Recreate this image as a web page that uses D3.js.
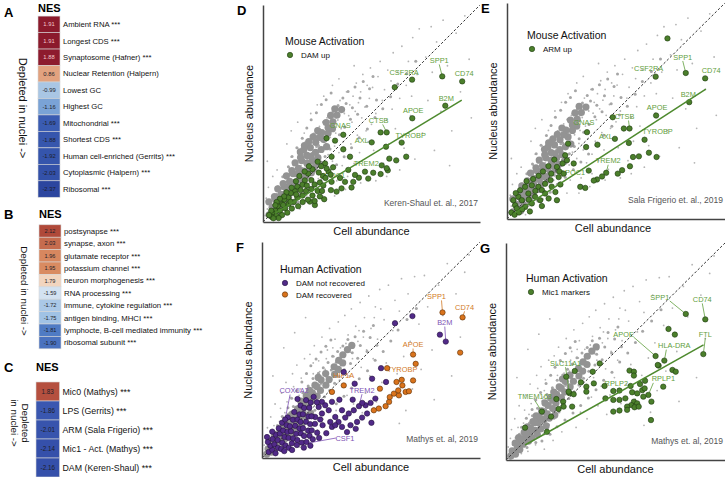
<!DOCTYPE html>
<html><head><meta charset="utf-8">
<script src="https://cdn.jsdelivr.net/npm/d3@7"></script>
<style>body{margin:0;background:#fff}svg{display:block;font-family:"Liberation Sans",Arial,Helvetica,sans-serif}</style>
</head><body><svg id="c" width="725" height="477"></svg>
<script>
// ---------------- heatmap data ----------------
const setsA = ["Ambient RNA ***","Longest CDS ***","Synaptosome (Hafner) ***","Nuclear Retention (Halpern)","Lowest GC","Highest GC","Mitochondrial ***","Shortest CDS ***","Human cell-enriched (Gerrits) ***","Cytoplasmic (Halpern) ***","Ribosomal ***"];
const nesA = [1.91,1.91,1.88,0.86,-0.99,-1.16,-1.69,-1.88,-1.92,-2.03,-2.37];
const setsB = ["postsynapse ***","synapse, axon ***","glutamate receptor ***","potassium channel ***","neuron morphogenesis ***","RNA processing ***","immune, cytokine regulation ***","antigen binding, MHCI ***","lymphocte, B-cell mediated immunity ***","ribosomal subunit ***"];
const nesB = [2.12,2.03,1.96,1.95,1.79,-1.59,-1.72,-1.75,-1.81,-1.90];
const setsC = ["Mic0 (Mathys) ***","LPS (Gerrits) ***","ARM (Sala Frigerio) ***","Mic1 - Act. (Mathys) ***","DAM (Keren-Shaul) ***"];
const nesC = [1.83,-1.86,-2.01,-2.14,-2.16];

// ---------------- background gene clouds [cell abundance, nucleus abundance] ----------------
const mouseBgSparse = [[0.1,0.3],[0.2,0.6],[0.3,0.2],[0.35,0.9],[0.4,0.5],[0.5,1.2],[0.55,0.3],[0.6,0.8],[0.7,1.5],[0.75,0.5],[0.8,1.1],[0.9,1.8],[0.95,0.7],[1.0,1.3],[0.15,1.1],[0.25,1.6],[0.45,2.1],[0.65,2.4],[0.85,0.2],[0.2,2.8],
[1.05,2.0],[1.1,0.9],[1.15,1.6],[1.2,2.5],[1.25,1.2],[1.3,3.0],[1.35,1.9],[1.4,0.8],[1.45,2.3],[1.5,1.5],[1.55,2.8],[1.6,3.4],[1.65,1.1],[1.7,2.1],[1.75,2.6],[1.8,1.6],[1.85,3.1],[1.9,2.2],[1.95,3.7],[2.0,1.3],[1.1,3.6],[1.3,4.2],[1.6,4.6],[1.9,4.1],[1.7,0.6],
[2.05,2.5],[2.1,3.0],[2.15,1.8],[2.2,3.5],[2.25,2.2],[2.3,4.0],[2.35,2.7],[2.4,1.5],[2.45,3.2],[2.5,3.8],[2.55,2.0],[2.6,4.4],[2.65,2.9],[2.7,3.4],[2.75,1.2],[2.8,4.0],[2.85,2.5],[2.9,3.6],[2.95,4.8],[3.0,3.1],[2.2,5.0],[2.5,5.4],[2.8,5.8],[2.4,0.9],[2.9,1.8],
[3.05,2.3],[3.1,3.9],[3.15,4.5],[3.2,2.8],[3.25,5.2],[3.3,3.5],[3.35,4.1],[3.4,1.9],[3.45,4.7],[3.5,3.2],[3.55,5.6],[3.6,4.3],[3.65,2.6],[3.7,3.7],[3.75,5.0],[3.8,4.4],[3.85,6.0],[3.9,3.0],[3.95,4.9],[4.0,5.4],[3.2,6.3],[3.5,6.6],[3.8,1.5],[3.3,1.2],[3.9,2.1],
[4.05,3.6],[4.1,4.6],[4.15,5.8],[4.2,2.7],[4.25,5.1],[4.3,6.4],[4.35,4.0],[4.4,5.5],[4.45,3.2],[4.5,6.0],[4.55,4.8],[4.6,6.8],[4.65,2.3],[4.7,5.3],[4.75,4.2],[4.8,6.3],[4.85,3.7],[4.9,5.7],[4.95,7.1],[5.0,4.5],[4.2,7.2],[4.5,1.8],
[5.05,6.2],[5.1,3.3],[5.2,5.0],[5.3,6.7],[5.35,4.1],[5.4,7.4],[5.5,5.6],[5.55,2.7],[5.6,6.1],[5.7,4.7],[5.75,7.0],[5.8,3.6],[5.9,6.5],[5.95,5.2],[6.0,7.8],[5.2,1.9],[5.7,2.1],
[6.1,4.3],[6.2,6.9],[6.3,5.7],[6.4,8.1],[6.5,3.4],[6.6,6.3],[6.7,7.4],[6.8,4.9],[6.9,8.5],[7.0,2.9],[6.3,2.4],[6.85,5.8],
[7.1,6.8],[7.2,8.9],[7.35,4.1],[7.5,7.6],[7.6,5.6],[7.75,9.0],[7.9,3.3],[7.8,6.9],[8.0,8.3],
[8.2,5.1],[8.3,9.3],[8.5,7.2],[8.7,4.2],[8.9,8.7],[9.1,6.0],[9.3,9.5],[9.5,7.5],[8.6,2.6],[9.6,4.8]];
const mouseBgDense = [[0.35,0.62],[0.52,0.41],[0.63,1.27],[0.78,0.93],[0.86,1.55],[0.97,0.62],[1.08,1.84],[1.12,1.07],[1.23,2.21],[1.27,1.38],[1.38,0.88],[1.42,2.63],[1.51,1.66],[1.58,2.04],[1.66,2.97],[1.72,1.29],[1.79,2.48],[1.88,3.31],[1.93,1.71],[2.04,2.83],[2.11,3.61],[2.18,2.02],[2.26,3.17],[2.33,4.05],[2.41,2.36],[2.47,3.48],[2.58,4.27],[2.63,2.61],[2.71,3.77],[2.79,4.61],[2.86,3.02],[2.94,4.12],[3.02,4.88],[3.09,3.36],[3.17,4.41],[3.23,5.09],[3.31,3.71],[3.38,4.83],[3.46,5.37],[3.52,4.02],[3.61,5.18],[3.68,5.72],[3.76,4.37],[3.83,5.46],[3.92,6.01],[4.03,4.73],[4.12,5.27],[4.24,6.22],[4.36,4.96],[4.47,5.71],[4.62,6.48],[4.78,5.33],[4.91,6.14],[5.07,6.71],[5.23,5.62],[0.44,1.08],[0.69,1.62],[0.91,2.09],[1.17,2.55],[1.34,3.02],[1.56,3.42],[1.81,3.86],[2.02,4.33],[2.22,4.71],[2.46,5.04],[2.69,5.41],[2.91,5.63],[3.14,5.94],[0.58,0.83],[0.83,1.21],[1.03,1.46],[1.29,1.77],[1.47,2.13],[1.71,2.36],[1.96,2.61],[2.14,2.96],[2.37,3.26],[2.56,3.52],[2.77,3.93],[2.99,4.26],[3.21,4.62],[3.43,4.98],[1.62,0.92],[1.98,1.24],[2.31,1.61],[2.67,1.93],[3.04,2.28],[3.39,2.64],[3.74,3.01],[4.08,3.42],[4.43,3.88],[4.81,4.29],[5.16,4.81],[5.52,5.22],[5.88,5.77],[6.21,6.36],[6.62,6.83],[7.04,7.41]];
const mouseBgCore = [[0.28,0.33],[0.52,0.47],[0.68,0.83],[0.93,0.97],[1.08,1.34],[1.33,1.47],[1.48,1.83],[1.73,1.97],[1.88,2.34],[2.13,2.47],[2.28,2.83],[2.53,2.97],[2.68,3.34],[2.93,3.47],
[0.42,0.68],[0.58,1.03],[0.83,1.27],[0.98,1.63],[1.23,1.87],[1.38,2.23],[1.63,2.47],[1.78,2.83],[2.03,3.07],[2.18,3.43],[2.43,3.67],
[0.63,0.38],[0.78,0.63],[1.03,0.87],[1.18,1.13],[1.43,1.37],[1.58,1.63],[1.83,1.87],[1.98,2.13],[2.23,2.27],[2.38,2.53],[2.63,2.67],
[0.27,0.93],[0.53,1.17],[0.68,1.53],[0.93,1.77],[1.08,2.13],[1.33,2.37],[1.48,2.73],[1.73,2.97],[1.88,3.33],[2.8,3.8],[3.0,4.1],[2.6,3.9],[3.2,4.3],
[3.0,4.35],[3.22,4.62],[3.41,4.93],[3.62,5.18],[2.91,4.58],[3.12,4.91],[3.31,5.22],[2.21,3.02],[2.42,3.21],[2.02,2.72],[1.61,2.21],[1.22,1.62],[0.81,1.02],[2.71,4.12],[2.52,4.21],[2.31,3.92],[2.11,3.71],[1.91,3.52],[1.72,3.23]];

const humanBgSparse = [[0.1,0.6],[0.2,1.0],[0.3,0.1],[0.4,1.9],[0.5,0.9],[0.6,2.5],[0.7,0.3],[0.8,1.7],[0.9,3.0],[1.0,0.4],[1.05,2.1],[1.1,3.5],[1.2,1.4],[1.3,2.8],[1.35,0.7],[1.4,3.9],[1.5,2.2],[1.55,1.1],[1.6,4.3],[1.7,2.9],[1.75,0.5],[1.8,3.7],[1.9,1.5],[1.95,4.6],[2.0,2.6],
[2.1,3.3],[2.15,0.9],[2.2,4.8],[2.3,2.0],[2.35,3.9],[2.4,5.2],[2.5,2.7],[2.55,1.3],[2.6,4.5],[2.7,3.4],[2.75,5.6],[2.8,1.8],[2.9,4.1],[2.95,2.4],[3.0,5.0],[3.1,6.0],[3.15,3.0],[3.2,1.5],[3.3,4.7],[3.35,5.5],[3.4,2.2],[3.5,6.3],[3.55,3.6],[3.6,5.1],[3.7,1.9],[3.75,4.3],[3.8,6.6],[3.9,2.9],[3.95,5.7],[4.0,3.8],
[4.1,6.9],[4.15,4.6],[4.2,2.5],[4.3,6.1],[4.35,3.4],[4.4,5.4],[4.5,7.2],[4.55,4.2],[4.6,2.1],[4.7,6.5],[4.75,3.0],[4.8,5.0],[4.9,7.5],[4.95,3.8],[5.0,6.0],[5.1,4.6],[5.2,7.0],[5.25,2.6],[5.3,5.5],[5.4,7.8],[5.5,3.5],[5.6,6.4],[5.7,4.4],[5.8,8.0],[5.9,2.8],[6.0,5.9],[6.1,7.3],[6.2,3.9],[6.3,6.8],[6.4,8.3],[6.5,4.7],[6.6,2.2],[6.7,7.6],[6.8,5.4],[6.9,3.2],[7.0,8.4],[7.2,6.2],[7.3,4.1],[7.45,8.45],[7.6,7.0],[7.8,5.0],[7.9,2.7],[8.1,8.0],[8.3,6.6],[8.5,9.0],[8.7,3.8],[8.9,7.6],[9.1,5.6],[9.3,8.6],[9.5,9.4],[1.0,5.1],[1.5,5.8],[2.0,6.5],[0.5,3.8],[6.3,1.6],
[0.25,1.4],[0.55,1.5],[0.85,2.3],[1.15,2.6],[1.45,3.3],[1.75,3.2],[2.05,3.9],[2.35,4.4],[2.65,4.0],[2.95,4.6],[3.25,5.1],[3.55,4.4],[3.85,5.3],[4.05,4.9],[4.45,5.9],[4.65,5.6],[5.15,6.5],[5.45,6.9]];
const humanBgDense = [[0.33,0.71],[0.49,0.36],[0.61,1.19],[0.77,0.88],[0.88,1.47],[0.96,0.58],[1.07,1.71],[1.14,1.02],[1.21,2.04],[1.29,1.31],[1.36,0.81],[1.44,2.38],[1.53,1.58],[1.59,1.93],[1.68,2.72],[1.74,1.21],[1.81,2.31],[1.87,3.02],[1.94,1.63],[2.06,2.62],[2.12,3.33],[2.19,1.92],[2.27,2.93],[2.34,3.68],[2.42,2.21],[2.48,3.21],[2.59,3.92],[2.64,2.48],[2.72,3.47],[2.81,4.18],[2.87,2.83],[2.96,3.79],[3.03,4.42],[3.11,3.14],[3.18,4.07],[3.24,4.71],[3.33,3.46],[3.41,4.43],[3.47,4.93],[3.54,3.77],[3.63,4.71],[3.71,5.18],[3.78,4.09],[3.86,5.02],[3.94,5.49],[4.06,4.38],[4.14,4.87],[4.27,5.61],[4.39,4.62],[4.51,5.21],[4.66,5.87],[4.82,4.93],[4.96,5.58],[5.11,6.13],[5.27,5.22],[0.46,1.02],[0.71,1.51],[0.93,1.92],[1.19,2.33],[1.36,2.77],[1.58,3.11],[1.83,3.52],[2.04,3.91],[2.24,4.27],[2.48,4.58],[2.71,4.91],[2.93,5.17],[3.16,5.46],[1.64,0.88],[2.01,1.19],[2.33,1.53],[2.69,1.84],[3.06,2.17],[3.41,2.51],[3.76,2.86],[4.11,3.24],[4.46,3.67],[4.84,4.04],[5.19,4.52],[5.56,4.93],[5.91,5.42],[6.24,5.93],[6.65,6.41],[7.08,6.92]];
const humanBgCore = [[0.28,0.42],[0.52,0.58],[0.68,0.83],[0.93,0.97],[1.08,1.23],[1.33,1.37],[1.48,1.73],[1.73,1.87],[1.88,2.13],[2.13,2.37],[2.28,2.63],[2.53,2.87],[2.68,3.13],[2.93,3.37],[3.08,3.63],[3.33,3.87],
[0.42,0.78],[0.58,1.03],[0.83,1.27],[0.98,1.53],[1.23,1.77],[1.38,2.03],[1.63,2.27],[1.78,2.63],[2.03,2.87],[2.18,3.13],[2.43,3.37],[2.58,3.73],
[0.63,0.48],[0.78,0.73],[1.03,0.87],[1.18,1.03],[1.43,1.17],[1.58,1.43],[1.83,1.57],[1.98,1.93],[2.23,2.07],[0.22,0.18],[0.43,0.27],[3.5,4.1],[3.7,4.4],
[3.52,4.52],[3.71,4.78],[3.92,5.02],[3.31,4.22],[2.92,3.91],[2.71,3.62],[2.52,3.31],[2.31,3.02],[2.12,2.78],[1.91,2.52],[1.72,2.22],[1.52,1.98],[1.31,1.72],[1.12,1.48],[0.91,1.22],[0.72,0.98],[4.12,5.21]];

// ---------------- highlighted genes ----------------
const damUpKS = [[9.18,6.48],[8.26,6.71],[6.87,6.56],[6.07,6.21],[8.40,5.36],[6.88,4.78],[5.42,4.13],[5.70,4.13],[6.39,3.66],[5.01,3.67],[3.70,4.02],[2.93,3.86],[3.32,3.75],[3.70,3.35],[4.01,3.01],[3.16,3.01],[5.67,3.47],[5.82,2.92],[6.14,2.84],[6.60,3.01],[5.47,2.61],[5.75,2.38],[5.70,2.48],[5.08,2.27],[5.42,2.21],[4.70,2.32],[4.85,2.00],[4.42,2.04],[4.24,2.17],[3.93,2.40],[4.16,1.85],[4.08,1.59],[3.78,1.85],[3.62,1.55],[3.39,1.40],[3.16,1.85],[3.55,2.03],[3.13,1.47],[2.82,1.05],[2.39,0.78],[2.16,0.94],
[2.86,2.70],[2.68,2.57],[2.52,2.78],[2.28,2.43],[2.57,2.28],[2.77,2.12],[2.08,2.23],[2.23,1.93],[1.93,1.92],[1.82,1.72],[1.58,1.63],[1.47,1.42],[1.28,1.33],[1.17,1.12],[0.98,1.03],[0.87,0.82],[0.68,0.73],[0.57,0.52],[0.43,0.42],[0.41,0.23],[0.62,0.28],[0.78,0.52],[1.02,0.63],[1.18,0.83],[1.42,0.92],[1.58,1.13],[1.82,1.22],[1.98,1.43],[2.22,1.52],[2.38,1.73],[2.62,1.82],[2.88,2.03],[3.02,2.33],[2.78,1.68],[2.52,1.43],[2.28,1.22],[2.07,1.03],[1.83,0.92],[1.62,0.73],[1.33,0.62],[1.12,0.43],[0.88,0.32],[0.72,0.18],[0.48,0.17],[1.52,1.88],[1.68,2.12],[1.92,2.33],[2.12,2.57],[1.32,1.58],[1.08,1.37],[0.97,1.18],[0.78,1.07],[0.63,0.92],[2.62,1.18],[2.38,0.97],[2.72,1.43],[3.12,2.18],[3.23,2.52],[2.93,2.47],[1.27,0.93],[1.53,1.27],[2.02,1.68],[1.73,1.47],[0.93,0.78],[0.38,0.52],[0.28,0.32],[0.57,0.77]];
const armUpSF = [[7.36,8.36],[8.20,6.76],[9.09,6.51],[6.82,6.59],[8.36,5.41],[6.84,4.79],[5.36,4.19],[5.62,4.19],[4.85,4.71],[6.31,3.67],[4.95,3.71],[3.67,4.02],[2.80,3.49],[3.63,3.33],[4.15,3.44],[5.59,3.52],[6.51,3.07],[6.86,2.87],[6.05,2.90],[5.78,2.87],[5.64,2.44],[5.28,2.26],[5.08,2.10],[4.55,2.14],[4.36,1.97],[4.13,1.83],[3.98,1.78],[3.75,2.24],[2.17,2.75],[2.55,2.57],[2.75,2.72],[3.06,2.57],[2.67,2.95],[2.29,2.41],[2.03,2.10],[2.37,1.94],[3.36,1.49],[3.59,1.44],[2.22,1.25],[2.29,0.87],[1.75,1.63],
[0.52,1.03],[0.83,1.49],[1.14,1.56],[1.44,1.49],[1.60,1.34],[0.98,1.18],[0.68,0.87],[0.37,0.64],[1.29,1.03],[1.75,1.18],[0.45,0.49],[0.83,0.56],[1.14,0.72],[1.52,0.87],[1.91,0.95],[0.60,1.33],[0.29,0.87],[0.20,0.30],[0.35,0.20],[0.55,0.30],[0.70,0.45],[1.00,0.90],[1.30,1.30],[0.90,1.75],[1.20,1.85],[1.45,2.00],[1.65,2.20],[1.90,2.45],[2.00,1.80],[2.40,2.20],[2.60,2.10],[2.45,1.60],[0.40,1.20],[1.05,0.35],[1.60,0.60],[2.05,1.50]];
const damNotRecovered = [[3.75,3.98],[4.25,3.44],[5.05,3.67],[5.46,4.16],[5.69,3.52],[6.10,6.24],[6.90,6.57],[8.16,5.71],[8.43,5.39],[3.21,2.60],[3.55,2.70],[4.16,2.70],[2.75,2.60],[5.02,1.63],
[3.21,1.44],[3.51,1.67],[3.82,1.87],[3.98,2.06],[4.21,2.21],[4.45,2.40],[4.75,2.44],[4.98,2.55],[4.82,2.06],[4.59,1.87],[4.36,1.67],[4.06,1.52],[3.67,1.44],[3.36,1.52],[3.13,1.67],[3.36,1.90],[3.67,2.21],[3.06,2.21],[2.90,2.44],[2.60,2.36],[2.75,2.06],[2.44,1.90],[4.60,2.55],[5.20,2.75],[3.90,1.20],[4.30,1.35],[2.95,1.15],
[0.31,0.28],[0.47,0.38],[0.62,0.22],[0.38,0.57],[0.57,0.63],[0.73,0.47],[0.88,0.42],[0.27,0.74],[0.49,0.88],[0.72,0.83],[0.93,0.71],[1.08,0.58],[1.23,0.47],[1.37,0.68],[0.63,1.08],[0.82,1.13],[1.03,0.97],[1.22,0.93],[1.43,0.91],[1.62,0.83],[1.83,0.71],[2.04,0.74],[0.77,1.38],[0.97,1.27],[1.17,1.21],[1.33,1.24],[1.57,1.12],[1.78,1.14],[1.93,1.02],[2.18,1.03],[2.33,0.87],[0.92,1.63],[1.13,1.52],[1.28,1.47],[1.52,1.49],[1.72,1.37],[1.88,1.38],[2.12,1.27],[2.28,1.28],[2.53,1.17],[1.18,1.88],[1.42,1.77],[1.63,1.78],[1.77,1.67],[2.02,1.68],[2.21,1.57],[2.43,1.58],[1.48,2.13],[1.72,2.02],[1.88,2.03],[2.13,1.92],[2.27,1.93],[1.77,2.43],[1.93,2.32],[2.17,2.33],[2.02,2.68],[2.23,2.57],[2.52,2.58],[1.63,2.73],[2.37,2.83],[0.23,0.97],[0.47,1.22],[2.62,0.93],[2.78,1.52],[2.67,1.78],[1.02,0.32],[1.38,0.37],[1.92,0.48],[2.22,0.57],[1.06,1.78],[1.60,0.60]];
const damRecovered = [[8.28,6.74],[9.20,6.51],[9.09,4.88],[6.93,4.79],[7.05,4.36],[5.74,4.16],[3.21,3.06],[3.75,3.36],[5.41,3.21],[5.13,2.21],[5.36,2.29],[5.67,2.40],[5.83,2.60],[5.86,2.82],[6.05,2.98],[6.28,2.90],[6.25,3.13],[6.44,3.36],[6.41,3.62],[6.17,3.52],[6.59,3.06],[6.74,3.09],[6.93,3.59]];
const mic1Markers = [[8.21,6.73],[9.10,6.48],[9.01,4.88],[6.83,4.79],[7.23,4.58],[2.90,3.08],[1.64,2.23],[4.90,3.18],[6.50,3.00],
[7.42,6.04],[7.71,5.78],[6.97,4.35],[4.28,4.45],[3.14,4.10],[2.75,3.84],[3.96,4.07],[3.42,3.58],[3.67,3.38],[4.01,3.53],[3.67,3.15],[2.86,3.15],[3.09,3.03],[2.30,2.81],[2.61,2.69],[2.63,2.46],[2.40,2.35],[3.02,2.46],[2.06,2.00],[1.87,1.30],[0.87,1.49],[4.50,3.41],[4.54,2.84],[5.64,4.12],[5.84,4.07],[5.84,3.89],[5.69,3.41],[6.12,3.50],[6.35,3.65],[5.18,3.20],[5.76,3.12],[5.99,3.07],[6.22,3.22],[6.33,3.30],[4.90,2.77],[5.18,2.77],[5.45,2.84],[5.84,2.69],[5.99,2.61],[5.72,2.53],[5.53,2.46],[5.87,2.43],[6.06,2.46],[4.90,2.23],[5.18,2.28],[5.53,2.31],[6.27,2.92],[6.64,2.69],[6.62,1.84],[6.93,4.38],[7.18,3.38],[7.60,4.15],[7.75,4.07]];

// labelled genes: [gene, cell abundance, nucleus abundance]
const genesD = [["CD74",9.18,6.48],["SPP1",8.26,6.71],["CSF2RA",6.87,6.56],["B2M",8.40,5.36],["APOE",6.88,4.78],["CTSB",5.70,4.13],["TYROBP",6.39,3.66],["AXL",5.01,3.67],["GNAS",3.70,4.02],["TREM2",4.85,2.00],["APOC1",3.16,1.85]];
const genesE = [["CD74",9.09,6.51],["SPP1",8.20,6.76],["CSF2RA",6.82,6.59],["B2M",8.36,5.41],["APOE",6.84,4.79],["CTSB",5.62,4.19],["TYROBP",6.31,3.67],["AXL",4.95,3.71],["GNAS",3.67,4.02],["TREM2",4.55,2.14],["APOC1",2.55,2.57]];
const genesF = [["SPP1",8.28,6.74,"rec"],["CD74",9.20,6.51,"rec"],["B2M",8.43,5.39,"not"],["APOE",6.93,4.79,"rec"],["TYROBP",5.74,4.16,"rec"],["HIF1A",3.75,3.36,"rec"],["COX6A2",1.06,1.78,"not"],["TREM2",4.45,2.40,"not"],["CSF1",1.60,0.60,"not"]];
const genesG = [["SPP1",8.21,6.73],["CD74",9.10,6.48],["FTL",9.01,4.88],["APOE",6.83,4.79],["HLA-DRA",7.23,4.58],["SLC11A1",2.90,3.08],["TMEM163",1.64,2.23],["RPLP2",4.90,3.18],["RPLP1",6.50,3.00]];

// linear fits: [slope, intercept, xStart, xEnd]
const fitD = [0.606,0.067,0.55,9.16];
const fitE = [0.655,0.04,0.35,9.12];
const fitG = [0.566,0.20,0.87,9.02];

// ---------------- layout (pixel offsets, not data) ----------------
const offD = {CD74:[2,-8],SPP1:[-3,-16,1],CSF2RA:[-8,-7],B2M:[1,-7],APOE:[1,-8],CTSB:[-8,-12,1,4,4],TYROBP:[9,-7],AXL:[-10,-2],GNAS:[-3,-9],TREM2:[-2,-15],APOC1:[1,-6]};
const offE = {CD74:[6,-8],SPP1:[-3,-16,1],CSF2RA:[-7,-8],B2M:[-1,-8],APOE:[1,-8],CTSB:[-5,-12,1,4,4],TYROBP:[13,-8],AXL:[-9,-2],GNAS:[-3,-10],TREM2:[2,-12,1],APOC1:[10,9]};
const offF = {SPP1:[-6,-16,1,5,4],CD74:[2,-10,1],B2M:[-1,-19,1],APOE:[0,-10,1],TYROBP:[15,1],HIF1A:[0,-10],COX6A2:[9,-29,1,-4,4],TREM2:[3,-16,1],CSF1:[48,-7,1,-9,0]};
const offG = {SPP1:[-26,-17,1,10,4],CD74:[-3,-20,1],FTL:[2,-20,1],APOE:[-32,-22,1,10,3],"HLA-DRA":[10,-15,1,-8,4],SLC11A1:[-4,-30,1],TMEM163:[-7,-15,1],RPLP2:[3,-8],RPLP1:[15,-16,1,-10,4]};

const svg = d3.select("#c");
const GREEN="#4b7f2b", GREEN_S="#1f3a10", GREEN_L="#5f9e3c";
const PURPLE="#512a88", PURPLE_S="#25103f", PURPLE_L="#7d53b4";
const ORANGE="#d9731c", ORANGE_S="#5a2d05", ORANGE_L="#d27a26";

// ---------------- heatmaps ----------------
function heat(names, vals, color, L){
  const g = svg.append("g");
  g.append("text").attr("x",L.letterX).attr("y",L.letterY).attr("font-size",13).attr("font-weight","bold").text(L.letter);
  g.append("text").attr("x",L.cellX).attr("y",L.nesY).attr("font-size",11).attr("font-weight","bold").text("NES");
  const y = d3.scaleBand().domain(d3.range(names.length)).range([L.top, L.top + L.rowH*names.length]);
  const rows = g.selectAll("g.r").data(vals).join("g");
  rows.append("rect").attr("x",L.cellX).attr("y",(d,i)=>y(i)).attr("width",L.cellW).attr("height",y.bandwidth())
    .attr("fill",d=>color(d)).attr("stroke","#d6d6d6").attr("stroke-width",0.6);
  rows.append("text").attr("x",L.cellX+L.cellW/2).attr("y",(d,i)=>y(i)+y.bandwidth()/2).attr("dy","0.35em")
    .attr("text-anchor","middle").attr("font-size",L.valSize)
    .attr("fill",d=>d3.hsl(color(d)).l<0.36?"#f2c9c9":"#1e1e2a").text(d=>d.toFixed(2));
  rows.append("text").attr("x",L.cellX+L.cellW+3).attr("y",(d,i)=>y(i)+y.bandwidth()/2).attr("dy","0.35em")
    .attr("font-size",L.labSize).attr("fill","#111").text((d,i)=>names[i]);
  const dep = g.append("text").attr("transform",`translate(${L.depX},${L.depY}) rotate(90)`)
    .attr("text-anchor","middle").attr("font-size",L.depSize).attr("fill","#111");
  L.depLines.forEach((t,i)=>dep.append("tspan").attr("x",0).attr("dy", i===0? (L.depLines.length>1?"-0.1em":"0.35em") : "1.15em").text(t));
}
const colA = d3.scaleLinear().domain([-2.37,-1.69,-1.16,-0.99,0.86,1.88,1.91]).range(["#2c469f","#3a5cb2","#7aa3d6","#a9c6e4","#e2a27f","#8d1b2e","#8b1a2c"]);
const colB = d3.scaleLinear().domain([-1.90,-1.81,-1.75,-1.59,1.79,1.95,2.12]).range(["#4a72bf","#4f7bc4","#a0c2e5","#d3e2f1","#f2d5bf","#d98b61","#b04939"]);
const colC = d3.scaleLinear().domain([-2.16,-1.86,1.83]).range(["#3550aa","#3a57b0","#b5503f"]);

heat(setsA, nesA, colA, {letter:"A",letterX:4,letterY:17,nesY:12,cellX:38,cellW:22,top:16.1,rowH:16.47,valSize:5.8,labSize:7.7,depX:23,depY:108,depSize:11,depLines:["Depleted in nuclei ->"]});
heat(setsB, nesB, colB, {letter:"B",letterX:4,letterY:219,nesY:218,cellX:39,cellW:22,top:224.8,rowH:12.4,valSize:5.6,labSize:7.8,depX:24,depY:291,depSize:9.8,depLines:["Depleted in nuclei ->"]});
heat(setsC, nesC, colC, {letter:"C",letterX:4,letterY:372,nesY:371,cellX:36,cellW:23.5,top:382,rowH:19,valSize:6.3,labSize:8.8,depX:21,depY:423,depSize:9.8,depLines:["Depleted","in nuclei ->"]});

// ---------------- scatter panels ----------------
function scatter(box, o){
  const x = d3.scaleLinear().domain([0,10]).range([box.x, box.x+box.w]);
  const y = d3.scaleLinear().domain([0,10]).range([box.y+box.h, box.y]);
  const g = svg.append("g");
  const cp = "clip"+o.letter;
  g.append("clipPath").attr("id",cp).append("rect").attr("x",box.x).attr("y",box.y-4).attr("width",box.w+2).attr("height",box.h+4);
  const bg = g.append("g").attr("clip-path",`url(#${cp})`);
  const layers = [[o.bg[0],0.9,"#b4b4b4"],[o.bg[1],1.5,"#a6a6a6"],[o.bg[2],3.6,"#939393"]];
  layers.forEach(([arr,r,c])=>{
    bg.append("g").selectAll("circle").data(arr).join("circle").attr("cx",d=>x(d[0])).attr("cy",d=>y(d[1])).attr("r",r).attr("fill",c);
  });
  g.append("line").attr("x1",x(0)).attr("y1",y(0)).attr("x2",x(10)).attr("y2",y(10))
    .attr("stroke","#333").attr("stroke-width",1).attr("stroke-dasharray","2.5,2");
  const lg = g.append("g").attr("font-size",7.4);
  o.genes.forEach(d=>{
    const off = o.off[d[0]];
    const px=x(d[1]), py=y(d[2]);
    const lx=px+off[0], ly=py+off[1];
    const col = o.labelColor(d);
    if(off[2]){
      const sx = lx + (off[3]!==undefined?off[3]:0), sy = ly + (off[4]!==undefined?off[4]:4);
      const dx=sx-px, dy=sy-py, len=Math.hypot(dx,dy)||1;
      lg.append("line").attr("x1",sx).attr("y1",sy).attr("x2",px+dx/len*2.5).attr("y2",py+dy/len*2.5)
        .attr("stroke",col).attr("stroke-width",0.8);
    }
    lg.append("text").attr("x",lx).attr("y",ly).attr("dy","0.35em").attr("text-anchor","middle").attr("fill",col).text(d[0]);
  });
  o.groups.forEach(gr=>{
    g.append("g").selectAll("circle").data(gr.data).join("circle")
      .attr("cx",d=>x(d[0])).attr("cy",d=>y(d[1])).attr("r",2.7)
      .attr("fill",gr.fill).attr("stroke",gr.stroke).attr("stroke-width",0.6);
  });
  if(o.fit){
    const f=o.fit;
    g.append("line").attr("x1",x(f[2])).attr("y1",y(f[0]*f[2]+f[1])).attr("x2",x(f[3])).attr("y2",y(f[0]*f[3]+f[1]))
      .attr("stroke","#4e8a2e").attr("stroke-width",1.5);
  }
  const ax = g.append("g").attr("transform",`translate(0,${box.y+box.h})`).call(d3.axisBottom(x).ticks(0).tickSizeOuter(0));
  const ay = g.append("g").attr("transform",`translate(${box.x},0)`).call(d3.axisLeft(y).ticks(0).tickSizeOuter(0));
  [ax,ay].forEach(a=>a.select(".domain").attr("stroke","#444").attr("stroke-width",1.5));
  g.append("text").attr("x",box.x-26).attr("y",box.y+10).attr("font-size",13).attr("font-weight","bold").text(o.letter);
  g.append("text").attr("transform",`translate(${box.x-10},${box.y+box.h/2}) rotate(-90)`).attr("text-anchor","middle")
    .attr("font-size",11).attr("fill","#111").text("Nucleus abundance");
  g.append("text").attr("x",box.x+box.w/2+(o.cellDx||0)).attr("y",box.y+box.h+13).attr("text-anchor","middle")
    .attr("font-size",11).attr("fill","#111").text("Cell abundance");
  g.append("text").attr("x",box.x+box.w-2).attr("y",box.y+box.h-16).attr("text-anchor","end")
    .attr("font-size",8.5).attr("fill","#555").text(o.source);
  g.append("text").attr("x",box.x+o.leg[0]).attr("y",box.y+o.leg[1]).attr("font-size",10.5).attr("fill","#111").text(o.legTitle);
  o.legItems.forEach((it,i)=>{
    const ly = box.y+o.leg[1]+13+i*11.5;
    g.append("circle").attr("cx",box.x+o.leg[0]+5).attr("cy",ly-3).attr("r",2.7).attr("fill",it[1]).attr("stroke",it[2]).attr("stroke-width",0.6);
    g.append("text").attr("x",box.x+o.leg[0]+16).attr("y",ly).attr("font-size",8).attr("fill","#111").text(it[0]);
  });
}

const mouseBg=[mouseBgSparse,mouseBgDense,mouseBgCore], humanBg=[humanBgSparse,humanBgDense,humanBgCore];
scatter({x:263,y:5,w:217,h:217},{letter:"D",bg:mouseBg,genes:genesD,off:offD,labelColor:()=>GREEN_L,
  groups:[{data:damUpKS,fill:GREEN,stroke:GREEN_S}],fit:fitD,source:"Keren-Shaul et. al., 2017",
  leg:[22,40],legTitle:"Mouse Activation",legItems:[["DAM up",GREEN,GREEN_S]]});
scatter({x:507,y:3,w:218,h:216},{letter:"E",bg:mouseBg,genes:genesE,off:offE,labelColor:()=>GREEN_L,
  groups:[{data:armUpSF,fill:GREEN,stroke:GREEN_S}],fit:fitE,source:"Sala Frigerio et. al., 2019",cellDx:-3,
  leg:[20,36],legTitle:"Mouse Activation",legItems:[["ARM up",GREEN,GREEN_S]]});
scatter({x:262,y:242,w:218,h:216},{letter:"F",bg:humanBg,genes:genesF,off:offF,labelColor:d=>d[3]==="rec"?ORANGE_L:PURPLE_L,
  groups:[{data:damNotRecovered,fill:PURPLE,stroke:PURPLE_S},{data:damRecovered,fill:ORANGE,stroke:ORANGE_S}],fit:null,source:"Mathys et. al, 2019",
  leg:[18,31],legTitle:"Human Activation",legItems:[["DAM not recovered",PURPLE,PURPLE_S],["DAM recovered",ORANGE,ORANGE_S]]});
scatter({x:506,y:243,w:219,h:217},{letter:"G",bg:humanBg,genes:genesG,off:offG,labelColor:()=>GREEN_L,
  groups:[{data:mic1Markers,fill:GREEN,stroke:GREEN_S}],fit:fitG,source:"Mathys et. al, 2019",
  leg:[20,39],legTitle:"Human Activation",legItems:[["Mic1 markers",GREEN,GREEN_S]]});
</script></body></html>
